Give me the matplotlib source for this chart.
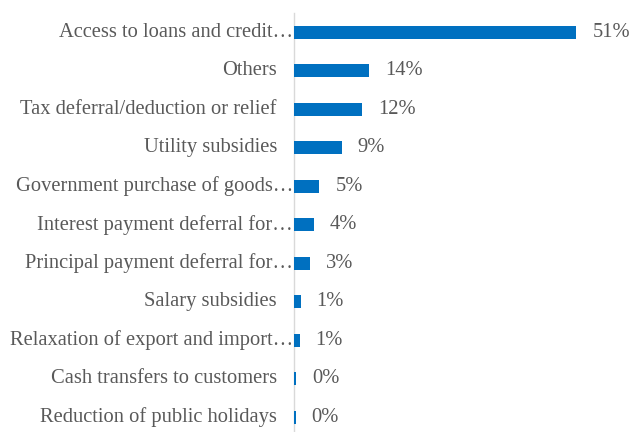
import matplotlib
matplotlib.use("Agg")
import matplotlib.pyplot as plt

# support measures, share of respondents (%)
measures = [
    "Access to loans and credit…",
    "Others",
    "Tax deferral/deduction or relief",
    "Utility subsidies",
    "Government purchase of goods…",
    "Interest payment deferral for…",
    "Principal payment deferral for…",
    "Salary subsidies",
    "Relaxation of export and import…",
    "Cash transfers to customers",
    "Reduction of public holidays",
]
shares = [51.0, 13.6, 12.3, 8.6, 4.6, 3.6, 2.9, 1.2, 1.0, 0.4, 0.3]

bar_color = "#0070C0"
text_color = "#595959"

plt.rcParams["font.family"] = ["Liberation Serif", "DejaVu Serif"]

fig = plt.figure(figsize=(6.33, 4.32), dpi=100)
ax = fig.add_axes([294 / 633, -4.5 / 432, 330 / 633, 423.5 / 432])

pos = list(range(len(measures)))
ax.barh(pos, shares, height=0.35, color=bar_color, edgecolor="none", zorder=3)

ax.set_xlim(0, 59.6)
ax.set_ylim(len(measures) - 0.5, -0.5)

for i, (name, v) in enumerate(zip(measures, shares)):
    # category names, truncated ones sit closer to the axis
    off = -1 if name.endswith("…") else -17
    ax.annotate(name, xy=(0, i), xycoords=("axes fraction", "data"),
                xytext=(off, 0), textcoords="offset pixels",
                ha="right", va="center", fontsize=14.8, color=text_color)
    ax.annotate(f"{v:.0f}%", xy=(v, i), xytext=(16, 0),
                textcoords="offset pixels", ha="left", va="center",
                fontsize=14.8, color=text_color, annotation_clip=False)

for side in ["top", "right", "bottom"]:
    ax.spines[side].set_visible(False)
ax.spines["left"].set_color("#d9d9d9")
ax.spines["left"].set_linewidth(1.0)
ax.spines["left"].set_zorder(1)
ax.set_xticks([])
ax.set_yticks([])

fig.savefig("out.png", dpi=100)
